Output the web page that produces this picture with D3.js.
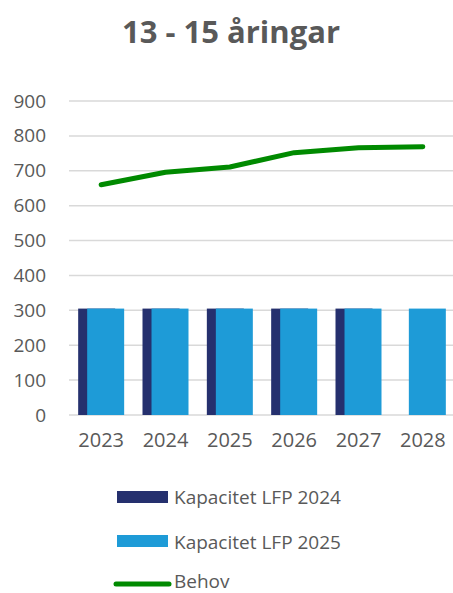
<!DOCTYPE html>
<html><head><meta charset="utf-8">
<script src="https://cdn.jsdelivr.net/npm/d3@7"></script>
<style>body{margin:0;background:#fff;} svg{display:block;font-family:"Open Sans", Lato, sans-serif;}</style>
</head><body>
<script>
const categories = ["2023","2024","2025","2026","2027","2028"];
const kap2024 = [305,305,305,305,305,0];
const kap2025 = [305,305,305,305,305,305];
const behov = [660,696,711,752,766,769];
const yTicks = [0,100,200,300,400,500,600,700,800,900];
const title = "13 - 15 åringar";
const seriesNames = ["Kapacitet LFP 2024","Kapacitet LFP 2025","Behov"];
const colors = {dark:"#25306e", light:"#1e9bd7", green:"#008a00", text:"#595959", grid:"#d9d9d9"};

const W=453,H=593;
const FF="'Open Sans', Lato, sans-serif";
const svg=d3.select("body").append("svg").attr("width",W).attr("height",H);
const x=d3.scaleBand().domain(categories).range([69,455]).padding(0);
const y=d3.scaleLinear().domain([0,900]).range([415,101]);

svg.append("text").attr("x",231).attr("y",43).attr("text-anchor","middle")
  .attr("font-size",31).attr("font-weight","bold").attr("fill",colors.text).text(title);

// grid
svg.append("g").selectAll("line").data(yTicks).join("line")
  .attr("x1",69).attr("x2",W).attr("y1",d=>y(d)).attr("y2",d=>y(d))
  .attr("stroke",colors.grid).attr("stroke-width",1.5);

// y axis labels
const yAxis=d3.axisLeft(y).tickValues(yTicks).tickSize(0).tickPadding(0);
const gy=svg.append("g").attr("transform","translate(46,0)").call(yAxis);
gy.select(".domain").remove();
gy.selectAll("text").attr("font-size",19).attr("fill",colors.text).attr("font-family",FF);

// x axis labels
const xAxis=d3.axisBottom(x).tickSize(0).tickPadding(0);
const gx=svg.append("g").attr("transform","translate(0,433)").call(xAxis);
gx.select(".domain").remove();
gx.selectAll("text").attr("font-size",20).attr("fill",colors.text).attr("font-family",FF);

const bw=x.bandwidth()*0.575, off=x.bandwidth()*0.14;
const c=d=>x(d)+x.bandwidth()/2;
svg.append("g").selectAll("rect").data(categories.map((k,i)=>({k,v:kap2024[i]}))).join("rect")
  .attr("x",d=>c(d.k)-off/2-bw/2).attr("width",bw)
  .attr("y",d=>y(d.v)).attr("height",d=>y(0)-y(d.v)).attr("fill",colors.dark);
svg.append("g").selectAll("rect").data(categories.map((k,i)=>({k,v:kap2025[i]}))).join("rect")
  .attr("x",d=>c(d.k)+off/2-bw/2).attr("width",bw)
  .attr("y",d=>y(d.v)).attr("height",d=>y(0)-y(d.v)).attr("fill",colors.light);

const line=d3.line().x((d,i)=>c(categories[i])).y(d=>y(d));
svg.append("path").datum(behov).attr("d",line).attr("fill","none")
  .attr("stroke",colors.green).attr("stroke-width",5).attr("stroke-linecap","round").attr("stroke-linejoin","round");

// legend
const lg=svg.append("g");
lg.append("rect").attr("x",117).attr("y",491).attr("width",51).attr("height",12).attr("fill",colors.dark);
lg.append("rect").attr("x",117).attr("y",535).attr("width",51).attr("height",12).attr("fill",colors.light);
lg.append("line").attr("x1",116).attr("x2",169).attr("y1",584).attr("y2",584)
  .attr("stroke",colors.green).attr("stroke-width",5).attr("stroke-linecap","round");
[[seriesNames[0],504],[seriesNames[1],549],[seriesNames[2],588]].forEach(([t,yy])=>{
  lg.append("text").attr("x",174).attr("y",yy).attr("font-size",19).attr("fill",colors.text).text(t);
});
</script>
</body></html>
